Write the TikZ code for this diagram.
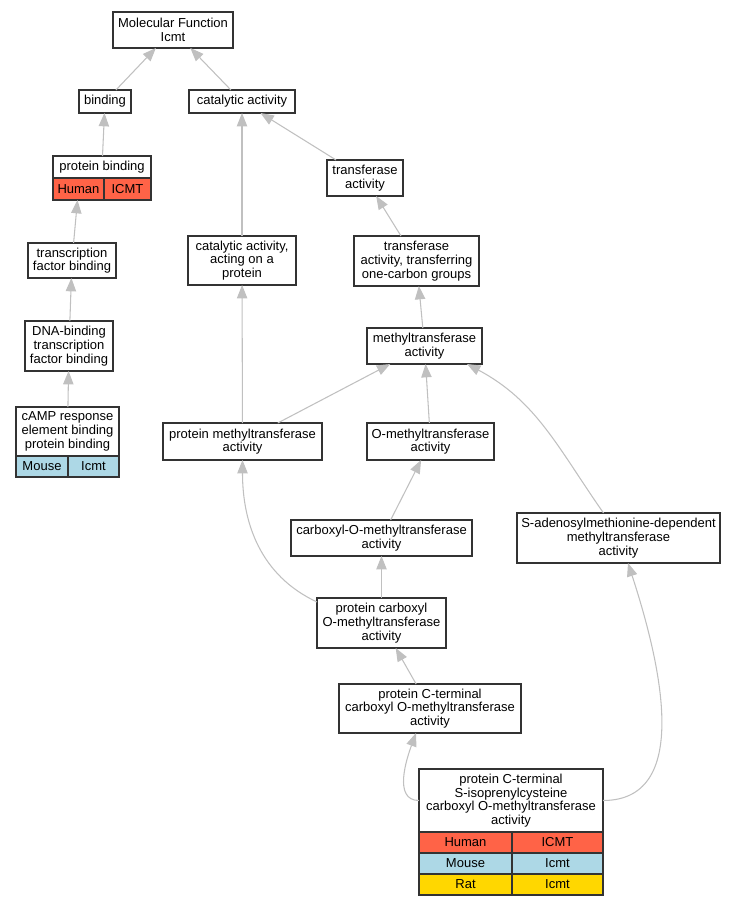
\documentclass[tikz,border=0pt]{standalone}
\usepackage{fontspec}
\setmainfont{Liberation Sans}
\usetikzlibrary{arrows.meta, positioning, calc}
\definecolor{edgegray}{HTML}{C0C0C0}
\definecolor{boxline}{HTML}{333333}
\definecolor{human}{HTML}{FF6347}
\definecolor{mouse}{HTML}{ADD8E6}
\definecolor{rat}{HTML}{FFD700}
\tikzstyle{term} = [rectangle, draw=boxline, line width=1pt, fill=white, align=center, inner sep=0pt, outer sep=0pt, font=\fontsize{9.75}{10.25}\selectfont]
\tikzstyle{cell} = [term]
\tikzstyle{arrow} = [draw=edgegray, line width=0.8pt, -{Triangle[length=10pt, width=7.75pt]}]
\tikzset{wh/.style 2 args={minimum width=#1*0.75pt, minimum height=#2*0.75pt}}

\begin{document}
\begin{tikzpicture}[x=0.75pt, y=-0.75pt]
  \useasboundingbox (0,0) rectangle (736,907);
  \node (mf) [term, wh={120}{36}] at (173,30) {Molecular Function\\Icmt};
  \node (bind) [term, wh={52}{23}] at (105,101.5) {binding};
  \node (cat) [term, wh={106}{23}] at (242,101.5) {catalytic activity};
  \node (pb) [term, wh={98}{22}] at (102,167) {protein binding};
  \node (pbh) [cell, fill=human, wh={51}{22}, below right=0pt and 0pt of pb.south west] {Human};
  \node (pbg) [cell, fill=human, wh={47}{22}, right=0pt of pbh] {ICMT};
  \node (ta) [term, wh={76}{36}] at (365,178) {transferase\\activity};
  \node (tfb) [term, wh={88}{35}] at (72,260.5) {transcription\\factor binding};
  \node (cap) [term, wh={108}{49}] at (242,260.5) {catalytic activity,\\acting on a\\protein};
  \node (tat) [term, wh={125}{50}] at (416.5,261) {transferase\\activity, transferring\\one-carbon groups};
  \node (dna) [term, wh={88}{50}] at (69,346) {DNA-binding\\transcription\\factor binding};
  \node (mt) [term, wh={115}{36}] at (424.5,346) {methyltransferase\\activity};
  \node (camp) [term, wh={103}{49}] at (67.5,431.5) {cAMP response\\element binding\\protein binding};
  \node (camph) [cell, fill=mouse, wh={52}{21}, below right=0pt and 0pt of camp.south west] {Mouse};
  \node (campg) [cell, fill=mouse, wh={51}{21}, right=0pt of camph] {Icmt};
  \node (pmt) [term, wh={159}{37}] at (242.5,441.5) {protein methyltransferase\\activity};
  \node (omt) [term, wh={127}{37}] at (430.5,441.5) {O-methyltransferase\\activity};
  \node (comt) [term, wh={181}{36}] at (381.5,538) {carboxyl-O-methyltransferase\\activity};
  \node (sam) [term, wh={203}{50}] at (618.5,538) {S-adenosylmethionine-dependent\\methyltransferase\\activity};
  \node (pco) [term, wh={129}{50}] at (381.5,623) {protein carboxyl\\O-methyltransferase\\activity};
  \node (pcc) [term, wh={182}{49}] at (430,708.5) {protein C-terminal\\carboxyl O-methyltransferase\\activity};
  \node (pcs) [term, wh={184}{63}] at (511,800.5) {protein C-terminal\\S-isoprenylcysteine\\carboxyl O-methyltransferase\\activity};
  \node (pcsh) [cell, fill=human, wh={93}{21}, below right=0pt and 0pt of pcs.south west] {Human};
  \node (pcsg) [cell, fill=human, wh={91}{21}, right=0pt of pcsh] {ICMT};
  \node (pcsm) [cell, fill=mouse, wh={93}{21}, below=0pt of pcsh] {Mouse};
  \node (pcsmg) [cell, fill=mouse, wh={91}{21}, below=0pt of pcsg] {Icmt};
  \node (pcsr) [cell, fill=rat, wh={93}{21}, below=0pt of pcsm] {Rat};
  \node (pcsrg) [cell, fill=rat, wh={91}{21}, below=0pt of pcsmg] {Icmt};
  \draw [arrow] (bind) -- (mf);
  \draw [arrow] (cat) -- (mf);
  \draw [arrow] (pb) -- (bind);
  \draw [arrow] (tfb) -- (pbh);
  \draw [arrow] (dna) -- (tfb);
  \draw [arrow] (camp) -- (dna);
  \draw [arrow] (cap) -- (cat);
  \draw [arrow] (ta) -- (cat);
  \draw [arrow] (tat) -- (ta);
  \draw [arrow] (mt) -- (tat);
  \draw [arrow] (pmt) -- (cap);
  \draw [arrow] (pmt) -- (mt);
  \draw [arrow] (omt) -- (mt);
  \draw [arrow] ($(sam.north)+(-15,0)$) to[out=125, in=-28] ($(mt.south east)+(-15,0)$);
  \draw [arrow] (comt) -- (omt);
  \draw [arrow] (pco) -- (comt);
  \draw [arrow] ($(pco.north west)+(0,4)$) to[out=155, in=-90] (pmt.south);
  \draw [arrow] (pcc) -- (pco);
  \draw [arrow] (pcs.west) to[out=180, in=-110] ($(pcc.south)+(-14,0)$);
  \draw [arrow] (pcs.east) to[out=0, in=-72] ($(sam.south)+(9.5,0)$);
\end{tikzpicture}
\end{document}
